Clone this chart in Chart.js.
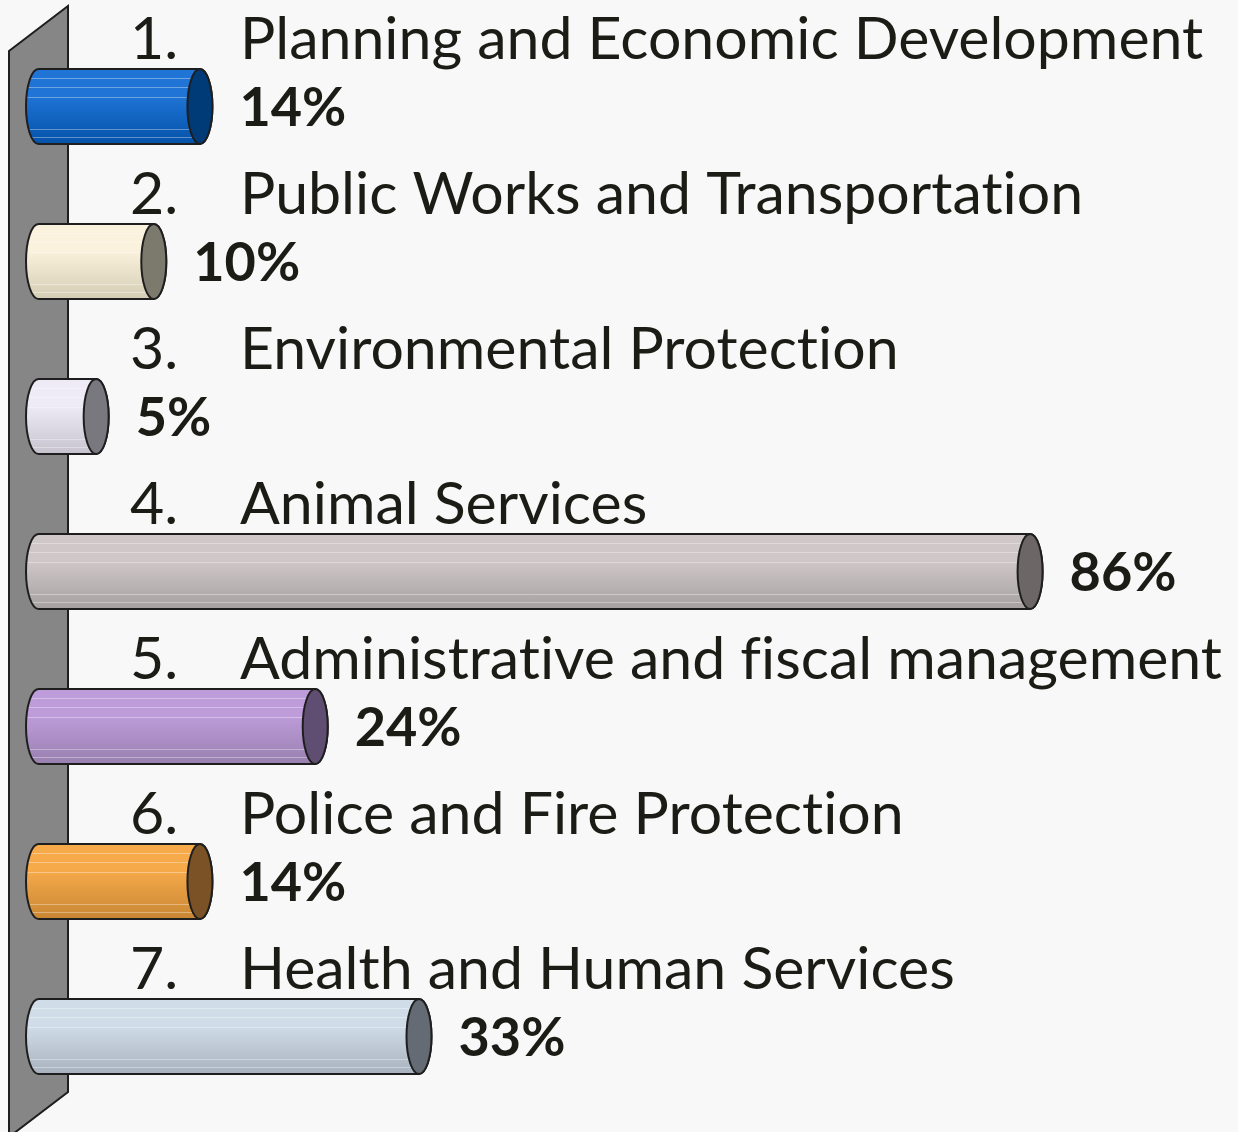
<!DOCTYPE html>
<html>
<head>
<meta charset="utf-8">
<script src="https://cdn.jsdelivr.net/npm/chart.js@4.4.1/dist/chart.umd.min.js"></script>
<style>
    html, body { margin: 0; padding: 0; background: #f8f8f8; }
    #wrap { width: 1238px; height: 1132px; position: relative; }
</style>
</head>
<body>
<div id="wrap"><canvas id="chart"></canvas></div>
<script>
// data
const categories = [
    'Planning and Economic Development',
    'Public Works and Transportation',
    'Environmental Protection',
    'Animal Services',
    'Administrative and fiscal management',
    'Police and Fire Protection',
    'Health and Human Services'
];
const percents = [14, 10, 5, 86, 24, 14, 33];

// cylinder colours (top of body, bottom of body, end cap)
const topColors = ['#1f74d6', '#faf2dc', '#eeeaf6', '#d0c8c8', '#be9cda', '#f6aa4a', '#d0dce8'];
const bottomColors = ['#0452a8', '#d4ccb4', '#c6c2ce', '#a6a0a0', '#9880ae', '#c88634', '#a8b2be'];
const capColors = ['#003b78', '#7c7a6c', '#7a787f', '#6c6666', '#5f4e71', '#7b5226', '#646b74'];

const textColor = '#1c1c16';
const outline = '#1e1e1e';

// wall behind the bars
const wallPlugin = {
    id: 'wall',
    beforeDraw(chart) {
        let ctx = chart.ctx;
        ctx.save();
        ctx.fillStyle = '#f8f8f8';
        ctx.fillRect(0, 0, chart.width, chart.height);
        ctx.beginPath();
        ctx.moveTo(9, 51);
        ctx.lineTo(68, 6);
        ctx.lineTo(68, 1092);
        ctx.lineTo(9, 1137);
        ctx.closePath();
        ctx.fillStyle = '#868686';
        ctx.fill();
        ctx.lineWidth = 2;
        ctx.strokeStyle = outline;
        ctx.stroke();
        ctx.restore();
    }
};

function bodyPath(ctx, base, x, cy, rx, ry) {
    ctx.beginPath();
    ctx.moveTo(base, cy - ry);
    ctx.lineTo(x, cy - ry);
    ctx.ellipse(x, cy, rx, ry, 0, -Math.PI / 2, Math.PI / 2);
    ctx.lineTo(base, cy + ry);
    ctx.ellipse(base, cy, rx, ry, 0, Math.PI / 2, Math.PI * 1.5);
    ctx.closePath();
}

// Lato joins "ti" / "fi" into ligatures, so draw the pieces separately
function drawText(ctx, text, x, y) {
    let parts = text.split(/(?<=[tf])(?=i)/);
    parts.forEach(p => {
        ctx.fillText(p, x, y);
        x += ctx.measureText(p).width;
    });
}

// draw each bar as a cylinder + labels
const cylinderPlugin = {
    id: 'cylinders',
    afterDatasetsDraw(chart) {
        let ctx = chart.ctx;
        let meta = chart.getDatasetMeta(0);
        meta.data.forEach((bar, i) => {
            let x = bar.x, base = bar.base, cy = bar.y;
            let ry = bar.height / 2, rx = 12.5;
            let top = cy - ry, bottom = cy + ry;

            ctx.save();
            // body
            let grad = ctx.createLinearGradient(0, top, 0, bottom);
            grad.addColorStop(0, topColors[i]);
            grad.addColorStop(0.35, topColors[i]);
            grad.addColorStop(1, bottomColors[i]);
            bodyPath(ctx, base, x, cy, rx, ry);
            ctx.fillStyle = grad;
            ctx.fill();

            // thin light bands
            ctx.save();
            ctx.clip();
            ctx.strokeStyle = 'rgba(255,255,255,0.35)';
            ctx.lineWidth = 1;
            [0.12, 0.24, 0.38, 0.8, 0.9].forEach(f => {
                let yy = Math.round(top + f * 2 * ry) + 0.5;
                ctx.beginPath();
                ctx.moveTo(base - rx, yy);
                ctx.lineTo(x, yy);
                ctx.stroke();
            });
            ctx.restore();

            bodyPath(ctx, base, x, cy, rx, ry);
            ctx.lineWidth = 2;
            ctx.strokeStyle = outline;
            ctx.stroke();

            // end cap
            ctx.beginPath();
            ctx.ellipse(x, cy, rx, ry, 0, 0, Math.PI * 2);
            ctx.fillStyle = capColors[i];
            ctx.fill();
            ctx.stroke();

            // category label above the bar
            ctx.fillStyle = textColor;
            ctx.textBaseline = 'alphabetic';
            ctx.textAlign = 'left';
            ctx.font = '59px Lato';
            ctx.fillText((i + 1) + '.', 130, cy - 48);
            drawText(ctx, categories[i], 240, cy - 48);

            // value label
            ctx.font = 'bold 54px Lato';
            ctx.fillText(percents[i] + '%', x + rx + 27, cy + 19);
            ctx.restore();
        });
    }
};

new Chart(document.getElementById('chart'), {
    type: 'bar',
    data: {
        labels: categories,
        datasets: [{
            data: percents,
            backgroundColor: 'rgba(0,0,0,0)',
            borderWidth: 0,
            barPercentage: 0.484,
            categoryPercentage: 1
        }]
    },
    options: {
        indexAxis: 'y',
        responsive: true,
        maintainAspectRatio: false,
        animation: false,
        layout: {
            padding: { left: 38.5, right: 46.5, top: 29, bottom: 18 }
        },
        scales: {
            x: { display: false, min: 0, max: 100 },
            y: { display: false }
        },
        plugins: {
            legend: { display: false },
            tooltip: { enabled: false }
        }
    },
    plugins: [wallPlugin, cylinderPlugin]
});
</script>
</body>
</html>
